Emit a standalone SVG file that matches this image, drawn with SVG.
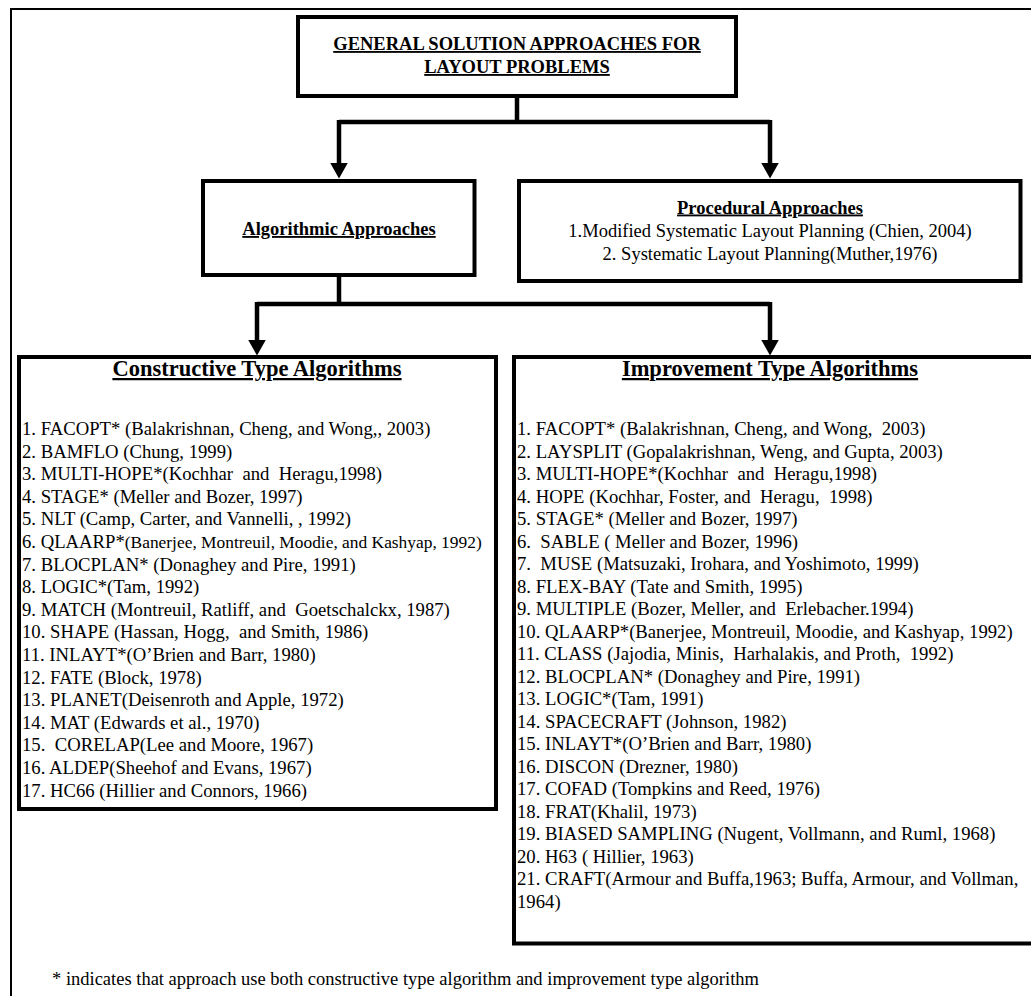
<svg xmlns="http://www.w3.org/2000/svg" width="1031" height="996" viewBox="0 0 1031 996">
<style>
.box{fill:#fff;stroke:#000;stroke-width:4}
.con{fill:none;stroke:#000;stroke-width:4.5;stroke-linejoin:miter}
.t{font-family:"Liberation Serif","Times New Roman",serif;fill:#000;white-space:pre}
.b{font-weight:bold;text-decoration:underline}
.h{font-size:18.5px}
.big{font-size:22.5px}
.it{font-size:18.7px}
</style>
<defs>
<marker id="arr" markerUnits="userSpaceOnUse" markerWidth="16" markerHeight="18" refX="0" refY="8.75" orient="auto" viewBox="0 0 16 17.5">
<path d="M0,0 L15.5,8.75 L0,17.5 Z" fill="#000"/>
</marker>
</defs>
<rect x="11" y="9" width="1100" height="1100" fill="#fff" stroke="#000" stroke-width="2"/>
<g id="connectors">
<path class="con" d="M517,96 V122"/>
<path class="con" d="M339,122 H770"/>
<path class="con" d="M339,120 V163" marker-end="url(#arr)"/>
<path class="con" d="M770,120 V163" marker-end="url(#arr)"/>
<path class="con" d="M339,277 V304"/>
<path class="con" d="M257,304 H770"/>
<path class="con" d="M257,302 V340" marker-end="url(#arr)"/>
<path class="con" d="M770,302 V340" marker-end="url(#arr)"/>
</g>
<g id="general">
<rect class="box" x="298" y="17" width="438" height="79"/>
<text class="t b h" x="517" y="50" text-anchor="middle">GENERAL SOLUTION APPROACHES FOR</text>
<text class="t b h" x="517" y="73" text-anchor="middle">LAYOUT PROBLEMS</text>
</g>
<g id="algorithmic">
<rect class="box" x="203" y="181" width="271.5" height="94"/>
<text class="t b h" x="339" y="235" text-anchor="middle">Algorithmic Approaches</text>
</g>
<g id="procedural">
<rect class="box" x="519" y="181" width="501.5" height="100"/>
<text class="t b h" x="770" y="213.5" text-anchor="middle">Procedural Approaches</text>
<text class="t h" x="770" y="236.5" text-anchor="middle">1.Modified Systematic Layout Planning (Chien, 2004)</text>
<text class="t h" x="770" y="259.5" text-anchor="middle">2. Systematic Layout Planning(Muther,1976)</text>
</g>
<g id="constructive">
<rect class="box" x="19" y="357" width="477" height="452"/>
<text class="t b big" x="257" y="376" text-anchor="middle">Constructive Type Algorithms</text>
<g class="t it">
<text xml:space="preserve" x="22" y="435">1. FACOPT* (Balakrishnan, Cheng, and Wong,, 2003)</text>
<text xml:space="preserve" x="22" y="457.6">2. BAMFLO (Chung, 1999)</text>
<text xml:space="preserve" x="22" y="480.2">3. MULTI-HOPE*(Kochhar  and  Heragu,1998)</text>
<text xml:space="preserve" x="22" y="502.8">4. STAGE* (Meller and Bozer, 1997)</text>
<text xml:space="preserve" x="22" y="525.4">5. NLT (Camp, Carter, and Vannelli, , 1992)</text>
<text xml:space="preserve" x="22" y="548">6. QLAARP*<tspan font-size="17.4px">(Banerjee, Montreuil, Moodie, and Kashyap, 1992)</tspan></text>
<text xml:space="preserve" x="22" y="570.6">7. BLOCPLAN* (Donaghey and Pire, 1991)</text>
<text xml:space="preserve" x="22" y="593.2">8. LOGIC*(Tam, 1992)</text>
<text xml:space="preserve" x="22" y="615.8">9. MATCH (Montreuil, Ratliff, and  Goetschalckx, 1987)</text>
<text xml:space="preserve" x="22" y="638.4">10. SHAPE (Hassan, Hogg,  and Smith, 1986)</text>
<text xml:space="preserve" x="22" y="661">11. INLAYT*(O’Brien and Barr, 1980)</text>
<text xml:space="preserve" x="22" y="683.6">12. FATE (Block, 1978)</text>
<text xml:space="preserve" x="22" y="706.2">13. PLANET(Deisenroth and Apple, 1972)</text>
<text xml:space="preserve" x="22" y="728.8">14. MAT (Edwards et al., 1970)</text>
<text xml:space="preserve" x="22" y="751.4">15.  CORELAP(Lee and Moore, 1967)</text>
<text xml:space="preserve" x="22" y="774">16. ALDEP(Sheehof and Evans, 1967)</text>
<text xml:space="preserve" x="22" y="796.6">17. HC66 (Hillier and Connors, 1966)</text>
</g>
</g>
<g id="improvement">
<rect class="box" x="514" y="357" width="600" height="586.5"/>
<text class="t b big" x="770" y="376" text-anchor="middle">Improvement Type Algorithms</text>
<g class="t it">
<text xml:space="preserve" x="517" y="435">1. FACOPT* (Balakrishnan, Cheng, and Wong,  2003)</text>
<text xml:space="preserve" x="517" y="457.5">2. LAYSPLIT (Gopalakrishnan, Weng, and Gupta, 2003)</text>
<text xml:space="preserve" x="517" y="480">3. MULTI-HOPE*(Kochhar  and  Heragu,1998)</text>
<text xml:space="preserve" x="517" y="502.5">4. HOPE (Kochhar, Foster, and  Heragu,  1998)</text>
<text xml:space="preserve" x="517" y="525">5. STAGE* (Meller and Bozer, 1997)</text>
<text xml:space="preserve" x="517" y="547.5">6.  SABLE ( Meller and Bozer, 1996)</text>
<text xml:space="preserve" x="517" y="570">7.  MUSE (Matsuzaki, Irohara, and Yoshimoto, 1999)</text>
<text xml:space="preserve" x="517" y="592.5">8. FLEX-BAY (Tate and Smith, 1995)</text>
<text xml:space="preserve" x="517" y="615">9. MULTIPLE (Bozer, Meller, and  Erlebacher.1994)</text>
<text xml:space="preserve" x="517" y="637.5">10. QLAARP*(Banerjee, Montreuil, Moodie, and Kashyap, 1992)</text>
<text xml:space="preserve" x="517" y="660">11. CLASS (Jajodia, Minis,  Harhalakis, and Proth,  1992)</text>
<text xml:space="preserve" x="517" y="682.5">12. BLOCPLAN* (Donaghey and Pire, 1991)</text>
<text xml:space="preserve" x="517" y="705">13. LOGIC*(Tam, 1991)</text>
<text xml:space="preserve" x="517" y="727.5">14. SPACECRAFT (Johnson, 1982)</text>
<text xml:space="preserve" x="517" y="750">15. INLAYT*(O’Brien and Barr, 1980)</text>
<text xml:space="preserve" x="517" y="772.5">16. DISCON (Drezner, 1980)</text>
<text xml:space="preserve" x="517" y="795">17. COFAD (Tompkins and Reed, 1976)</text>
<text xml:space="preserve" x="517" y="817.5">18. FRAT(Khalil, 1973)</text>
<text xml:space="preserve" x="517" y="840">19. BIASED SAMPLING (Nugent, Vollmann, and Ruml, 1968)</text>
<text xml:space="preserve" x="517" y="862.5">20. H63 ( Hillier, 1963)</text>
<text xml:space="preserve" x="517" y="885">21. CRAFT(Armour and Buffa,1963; Buffa, Armour, and Vollman,</text>
<text xml:space="preserve" x="517" y="907.5">1964)</text>
</g>
</g>
<g id="footnote">
<text class="t h" x="52" y="985">* indicates that approach use both constructive type algorithm and improvement type algorithm</text>
</g>
</svg>
